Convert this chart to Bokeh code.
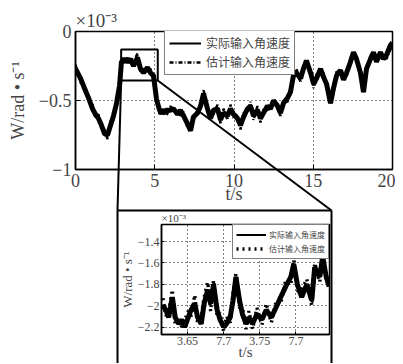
from bokeh.plotting import figure
from bokeh.models import FixedTicker, Spacer
from bokeh.layouts import column, row
from bokeh.embed import file_html
from bokeh.resources import INLINE

# ---------------- data (values x1e-3) ----------------
t_main = [0, 0.32, 0.63, 0.82, 1.07, 1.26, 1.45, 1.64, 1.83, 2.02, 2.21, 2.40, 2.59, 2.78,
          2.90, 3.09, 3.28, 3.47, 3.66, 3.91, 4.10, 4.29, 4.54, 4.73, 4.92, 5.11, 5.30, 5.49,
          5.74, 5.99, 6.18, 6.44, 6.62, 6.81, 7.07, 7.26, 7.44, 7.70, 7.89, 8.08, 8.33, 8.52,
          8.71, 8.96, 9.15, 9.34, 9.59, 9.78, 9.97, 10.22, 10.41, 10.60, 10.85, 11.04, 11.23,
          11.48, 11.67, 11.86, 12.11, 12.30, 12.49, 12.74, 12.93, 13.12, 13.38, 13.56, 13.75,
          13.94, 14.20, 14.38, 14.57, 14.83, 15.02, 15.21, 15.46, 15.65, 15.84, 16.09, 16.28,
          16.47, 16.72, 16.91, 17.10, 17.35, 17.54, 17.73, 17.98, 18.17, 18.36, 18.61, 18.80,
          18.99, 19.24, 19.43, 19.62, 19.87, 20.0]
w_actual = [-0.27, -0.34, -0.43, -0.48, -0.56, -0.60, -0.63, -0.68, -0.74, -0.75, -0.68, -0.61,
            -0.52, -0.39, -0.22, -0.20, -0.22, -0.20, -0.25, -0.19, -0.27, -0.30, -0.26, -0.30,
            -0.32, -0.49, -0.57, -0.59, -0.57, -0.57, -0.56, -0.60, -0.57, -0.61, -0.67, -0.72,
            -0.62, -0.59, -0.54, -0.45, -0.56, -0.63, -0.57, -0.56, -0.64, -0.59, -0.61, -0.56,
            -0.60, -0.63, -0.68, -0.62, -0.56, -0.54, -0.61, -0.57, -0.63, -0.59, -0.54, -0.56,
            -0.50, -0.54, -0.59, -0.52, -0.48, -0.44, -0.32, -0.30, -0.34, -0.27, -0.21, -0.30,
            -0.38, -0.34, -0.27, -0.33, -0.38, -0.52, -0.41, -0.32, -0.28, -0.35, -0.30, -0.22,
            -0.15, -0.20, -0.30, -0.44, -0.27, -0.20, -0.15, -0.22, -0.15, -0.20, -0.17, -0.10,
            -0.08]
w_est = [-0.24, -0.37, -0.40, -0.51, -0.53, -0.63, -0.60, -0.71, -0.71, -0.78, -0.65, -0.64,
         -0.49, -0.42, -0.19, -0.23, -0.19, -0.24, -0.22, -0.16, -0.30, -0.27, -0.29, -0.27,
         -0.35, -0.46, -0.60, -0.56, -0.61, -0.54, -0.59, -0.57, -0.61, -0.58, -0.70, -0.69,
         -0.65, -0.56, -0.57, -0.42, -0.59, -0.60, -0.60, -0.53, -0.67, -0.56, -0.64, -0.53,
         -0.63, -0.60, -0.71, -0.59, -0.59, -0.51, -0.64, -0.54, -0.66, -0.56, -0.57, -0.53,
         -0.53, -0.51, -0.62, -0.49, -0.51, -0.41, -0.35, -0.27, -0.37, -0.24, -0.24, -0.27,
         -0.41, -0.31, -0.30, -0.30, -0.41, -0.49, -0.44, -0.29, -0.31, -0.32, -0.33, -0.19,
         -0.18, -0.17, -0.33, -0.41, -0.30, -0.17, -0.18, -0.19, -0.18, -0.17, -0.20, -0.13,
         -0.09]
zoom_t = [2.88, 5.19]
zoom_w = [-0.355, -0.13]

t_in = [3.616, 3.620, 3.624, 3.629, 3.633, 3.638, 3.642, 3.646, 3.651, 3.655, 3.660, 3.664,
        3.669, 3.673, 3.678, 3.682, 3.686, 3.691, 3.695, 3.700, 3.704, 3.709, 3.713, 3.717,
        3.722, 3.726, 3.731, 3.735, 3.740, 3.746, 3.753, 3.759, 3.766, 3.773, 3.779, 3.786,
        3.793, 3.797, 3.802, 3.808, 3.815, 3.822, 3.826, 3.833, 3.837, 3.842, 3.846]
w_in_actual = [-2.00, -2.04, -2.11, -1.92, -2.11, -2.17, -2.13, -2.20, -2.11, -2.04, -1.98, -2.11,
               -2.17, -1.98, -1.85, -1.98, -1.80, -2.04, -2.13, -2.20, -2.17, -2.11, -1.95, -1.73,
               -1.95, -2.08, -2.17, -2.11, -2.17, -2.08, -2.13, -2.04, -2.11, -2.01, -1.92, -1.82,
               -1.73, -1.61, -1.80, -1.92, -1.80, -1.95, -1.64, -1.73, -1.54, -1.73, -1.82]
w_in_est = [-1.93, -2.10, -2.05, -1.85, -2.18, -2.12, -2.20, -2.14, -2.05, -2.10, -1.90, -2.16,
            -2.10, -1.92, -1.78, -2.05, -1.76, -2.10, -2.07, -2.24, -2.10, -2.16, -1.88, -1.70,
            -2.02, -2.02, -2.22, -2.05, -2.22, -2.02, -2.18, -1.98, -2.16, -1.95, -1.98, -1.76,
            -1.80, -1.57, -1.86, -1.86, -1.75, -2.00, -1.60, -1.78, -1.50, -1.78, -1.76]

main_xticks = [0, 5, 10, 15, 20]
main_yticks = [-1, -0.5, 0]
main_ylabels = ["−1", "−0.5", "0"]
in_xticks = [3.65, 3.70, 3.75, 3.80]
in_xlabels = ["3.65", "7.7", "3.75", "7.7"]
in_yticks = [-2.2, -2.0, -1.8, -1.6, -1.4]
in_ylabels = ["−2.2", "−2", "−1.8", "−1.6", "−1.4"]
legend_labels = ["实际输入角速度", "估计输入角速度"]
scale_text = "×10⁻³"
x_title = "t/s"
y_title = "W/rad • s⁻¹"

# ---------------- layout constants (pixels) ----------------
FONT = "Liberation Serif"
CJK = "Noto Sans CJK SC"
X0, X1, Y0, Y1 = 0, 20, -1, 0                     # main ranges
IX0, IX1, IY0, IY1 = 3.614, 3.8465, -2.27, -1.24  # inset ranges
P1_W, P1_H = 395, 209
P1_L, P1_R, P1_T, P1_B = 75, 3, 31, 40
P2_OFF = 116
P2_W, P2_H = 216, 154
P2_L, P2_R, P2_T, P2_B = 38, 3, 14, 29
TOTAL_H = P1_H + P2_H


def style_axes(p, fs, tick_in):
    for ax in (p.xaxis[0], p.yaxis[0]):
        ax.major_label_text_font = FONT
        ax.major_label_text_font_size = fs
        ax.axis_label_text_font = FONT
        ax.axis_label_text_font_style = "normal"
        ax.major_tick_in = tick_in
        ax.major_tick_out = 0
        ax.minor_tick_line_color = None
        ax.axis_line_width = 1.5
        ax.major_tick_line_width = 1
    for g in (p.xgrid[0], p.ygrid[0]):
        g.grid_line_color = "black"
        g.grid_line_dash = "1 3"
        g.grid_line_width = 1
    p.outline_line_color = "black"
    p.outline_line_width = 1.5


# ---------------- main figure ----------------
p1 = figure(width=P1_W, height=P1_H, x_range=(X0, X1), y_range=(Y0, Y1),
            output_backend="svg", toolbar_location=None,
            min_border_left=P1_L, min_border_right=P1_R,
            min_border_top=P1_T, min_border_bottom=P1_B)
p1.title.text = scale_text
p1.title.text_font = FONT
p1.title.text_font_size = "19px"
p1.title.text_font_style = "normal"
p1.title.align = "left"
p1.title.standoff = 2
p1.xaxis.ticker = FixedTicker(ticks=main_xticks)
p1.yaxis.ticker = FixedTicker(ticks=main_yticks)
p1.yaxis.major_label_overrides = dict(zip(main_yticks, main_ylabels))
p1.xaxis.axis_label = x_title
p1.yaxis.axis_label = y_title
style_axes(p1, "18px", 5)
p1.xaxis.axis_label_text_font_size = "18px"
p1.yaxis.axis_label_text_font_size = "18px"
p1.xaxis.major_label_standoff = 4
p1.xaxis.axis_label_standoff = -6
p1.yaxis.major_label_standoff = 4
p1.yaxis.axis_label_standoff = 8

# thick band for the (noisy) actual signal, plus thinner legend-styled lines on top
p1.line(t_main, w_actual, line_color="black", line_width=5)
p1.line(t_main, w_actual, line_color="black", line_width=2, legend_label=legend_labels[0])
p1.line(t_main, w_est, line_color="black", line_width=2.5, line_dash="4 2 1 2",
        legend_label=legend_labels[1])
p1.quad(left=[zoom_t[0]], right=[zoom_t[1]], bottom=[zoom_w[0]], top=[zoom_w[1]],
        fill_alpha=0, line_color="black", line_width=2)

lg = p1.legend[0]
lg.location = (89, 94)
lg.margin = 0
lg.padding = 4
lg.spacing = 2
lg.glyph_width = 32
lg.glyph_height = 16
lg.label_standoff = 5
lg.label_text_font = CJK
lg.label_text_font_size = "12px"
lg.border_line_color = "black"
lg.border_line_width = 1.5
lg.background_fill_alpha = 1

# ---------------- inset figure ----------------
p2 = figure(width=P2_W, height=P2_H, x_range=(IX0, IX1), y_range=(IY0, IY1),
            output_backend="svg", toolbar_location=None,
            min_border_left=P2_L, min_border_right=P2_R,
            min_border_top=P2_T, min_border_bottom=P2_B)
p2.title.text = scale_text
p2.title.text_font = FONT
p2.title.text_font_size = "11px"
p2.title.text_font_style = "normal"
p2.title.align = "left"
p2.title.standoff = 1
p2.xaxis.ticker = FixedTicker(ticks=in_xticks)
p2.yaxis.ticker = FixedTicker(ticks=in_yticks)
p2.xaxis.major_label_overrides = dict(zip(in_xticks, in_xlabels))
p2.yaxis.major_label_overrides = dict(zip(in_yticks, in_ylabels))
p2.xaxis.axis_label = x_title
p2.yaxis.axis_label = y_title
style_axes(p2, "12px", 3)
p2.xaxis.axis_label_text_font_size = "15px"
p2.yaxis.axis_label_text_font_size = "13px"
p2.xaxis.major_label_standoff = 2
p2.xaxis.axis_label_standoff = -4
p2.yaxis.major_label_standoff = 2
p2.yaxis.axis_label_standoff = 0

p2.line(t_in, w_in_actual, line_color="black", line_width=5)
p2.line(t_in, w_in_actual, line_color="black", line_width=2, legend_label=legend_labels[0])
p2.line(t_in, w_in_est, line_color="black", line_width=3.5, line_dash="2 4",
        legend_label=legend_labels[1])
lg2 = p2.legend[0]
lg2.location = "top_right"
lg2.margin = 0
lg2.padding = 3
lg2.spacing = 1
lg2.glyph_width = 30
lg2.glyph_height = 13
lg2.label_standoff = 3
lg2.label_text_font = CJK
lg2.label_text_font_size = "8px"
lg2.border_line_color = "black"
lg2.border_line_width = 1.5
lg2.background_fill_alpha = 1

# ---------------- transparent overlay: zoom connectors + inset outer frame ----------------
# its frame lines up with the main frame horizontally; x/y ranges are page pixels
f1w, f1h = P1_W - P1_L - P1_R, P1_H - P1_T - P1_B


def main_to_px(t, w):
    return (P1_L + (t - X0) / (X1 - X0) * f1w, P1_T + (Y1 - w) / (Y1 - Y0) * f1h)


ov = figure(width=P1_W, height=TOTAL_H, x_range=(P1_L, P1_W - P1_R), y_range=(TOTAL_H, 0),
            x_axis_type=None, y_axis_type=None, output_backend="svg", toolbar_location=None,
            min_border_left=P1_L, min_border_right=P1_R, min_border_top=0,
            min_border_bottom=0, background_fill_alpha=0, border_fill_alpha=0,
            outline_line_color=None)
ov.grid.visible = False
bl = main_to_px(zoom_t[0], zoom_w[0])
br = main_to_px(zoom_t[1], zoom_w[0])
left_x = P2_OFF + 1
right_x = P2_OFF + P2_W - 1
x0s = [bl[0], br[0], left_x, right_x, left_x]
y0s = [bl[1], br[1], P1_H + 1, P1_H + 1, P1_H + 1]
x1s = [left_x, right_x, left_x, right_x, right_x]
y1s = [P1_H + 1, P1_H + 1, TOTAL_H, TOTAL_H, P1_H + 1]
ov.segment(x0=x0s, y0=y0s, x1=x1s, y1=y1s, line_color="black", line_width=2)
ov.styles = {"position": "absolute", "left": "0px", "top": "0px",
             "pointer-events": "none", "z-index": "10"}

layout = column(p1, row(Spacer(width=P2_OFF), p2), ov)
open("out.html", "w").write(file_html(layout, INLINE))
